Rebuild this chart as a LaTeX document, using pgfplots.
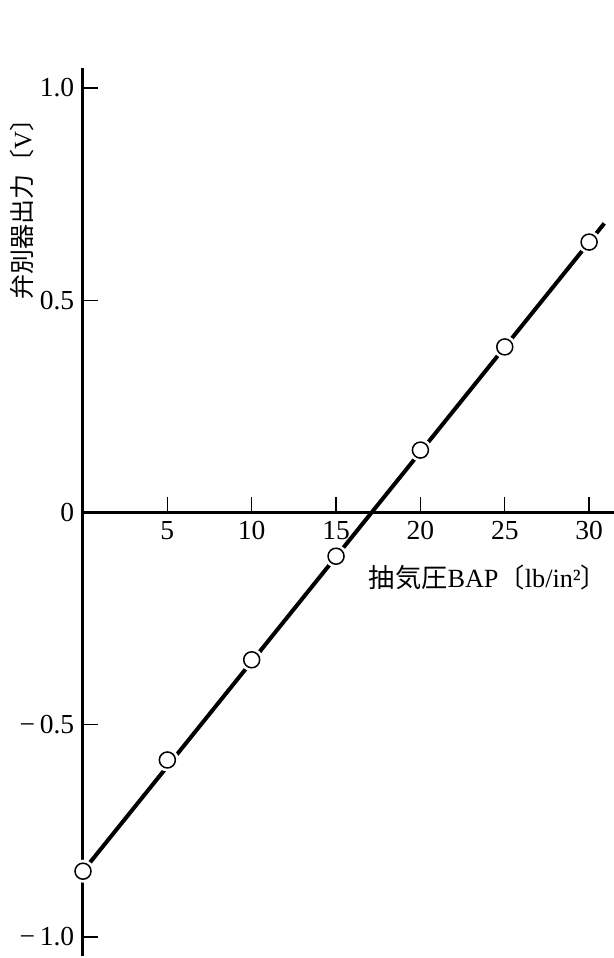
\documentclass[border=0pt]{standalone}
\usepackage{fontspec}
\setmainfont{Liberation Serif}
\newfontfamily\jp{Noto Sans CJK JP}
\usepackage{pgfplots}
\pgfplotsset{compat=1.18}

\begin{document}
\begin{tikzpicture}
\begin{axis}[
  x=6.748pt, y=169.8pt,
  xmin=0, xmax=31.5, ymin=-1.045, ymax=1.047,
  axis lines=middle,
  axis line style={-},
  x axis line style={line width=1pt},
  y axis line style={line width=1.2pt},
  hide obscured x ticks=false,
  hide obscured y ticks=false,
  xtick={5,10,15,20,25,30},
  xticklabels={5,10,15,20,25,30},
  ytick={-1,-0.5,0,0.5,1},
  yticklabels={−\,1.0,−\,0.5,0,0.5,1.0},
  ytick align=inside,
  xtick align=center,
  major tick length=6pt,
  tick style={line width=0.5pt, black},
  xtick style={yshift=3pt},
  ticklabel style={font=\fontsize{11}{12}\selectfont},
  xticklabel style={yshift=3pt},
  xlabel={{\jp 抽気圧}BAP{\jp 〔}lb/in²{\jp 〕}},
  xlabel style={at={(axis description cs:0.762,0.426)}, anchor=center,
    font=\fontsize{10.5}{12}\selectfont},
  ylabel={{\jp 弁別器出力〔}V{\jp 〕}},
  ylabel style={at={(axis description cs:-0.1148,0.848)}, anchor=center,
    rotate=90, font=\fontsize{10}{11}\selectfont},
  clip=false,
]
% fitted straight line
\addplot[line width=1.6pt, black] coordinates {(0,-0.845) (30.9,0.681)};
% white halo that opens the line around each measured point
\addplot[only marks, white, mark=*, mark size=4.4pt] table {
x y
0 -0.845
5 -0.583
10 -0.347
15 -0.103
20 0.147
25 0.390
30 0.637
};
% measured points
\addplot[only marks, black, mark=o, mark size=3.2pt,
  mark options={line width=0.6pt}] table {
x y
0 -0.845
5 -0.583
10 -0.347
15 -0.103
20 0.147
25 0.390
30 0.637
};
\coordinate (bbsw) at (axis cs:-4.92,-1.0495);
\coordinate (bbne) at (axis cs:31.476,1.2073);
\end{axis}
\pgfresetboundingbox
\path[use as bounding box] (bbsw) rectangle (bbne);
\end{tikzpicture}
\end{document}
